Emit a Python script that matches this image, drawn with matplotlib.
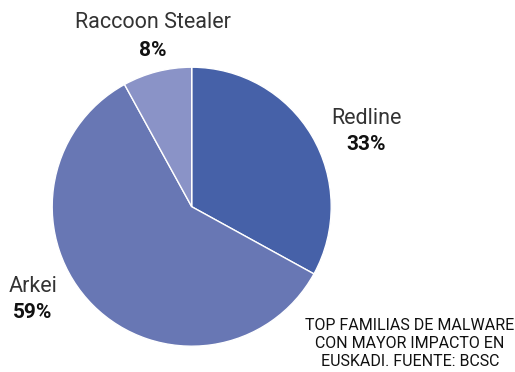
import matplotlib
matplotlib.use("Agg")
import matplotlib.pyplot as plt

labels = ["Redline", "Arkei", "Raccoon Stealer"]
values = [33, 59, 8]
pct_labels = ["33%", "59%", "8%"]
colors = ["#4661a8", "#6877b4", "#8a93c7"]
note = "TOP FAMILIAS DE MALWARE\nCON MAYOR IMPACTO EN\nEUSKADI. FUENTE: BCSC"

W, H = 515, 372
fig = plt.figure(figsize=(W / 100, H / 100), dpi=100)
ax = fig.add_axes([0, 0, 1, 1])

cx, cy, r = 191.7, H - 206.7, 139.5
ax.pie(values, colors=colors, startangle=90, counterclock=False,
       center=(cx, cy), radius=r, frame=True,
       wedgeprops=dict(edgecolor="white", linewidth=1.0))
ax.set_xlim(0, W)
ax.set_ylim(0, H)
ax.axis("off")

font = "Roboto"
label_pos = {"Redline": (366, 118, 145), "Arkei": (33, 287, 313),
             "Raccoon Stealer": (153, 23, 50)}
for lab, pct in zip(labels, pct_labels):
    x, y1, y2 = label_pos[lab]
    ax.text(x, H - y1, lab, ha="center", va="center", fontsize=15.5,
            family=font, fontweight="normal", color="#333333")
    ax.text(x, H - y2, pct, ha="center", va="center", fontsize=15,
            family=font, fontweight="bold", color="#111111")

ax.text(410, H - 344, note, ha="center", va="center", fontsize=11.5,
        family=font, color="#111111", linespacing=1.25)

fig.savefig("out.png", dpi=100)
